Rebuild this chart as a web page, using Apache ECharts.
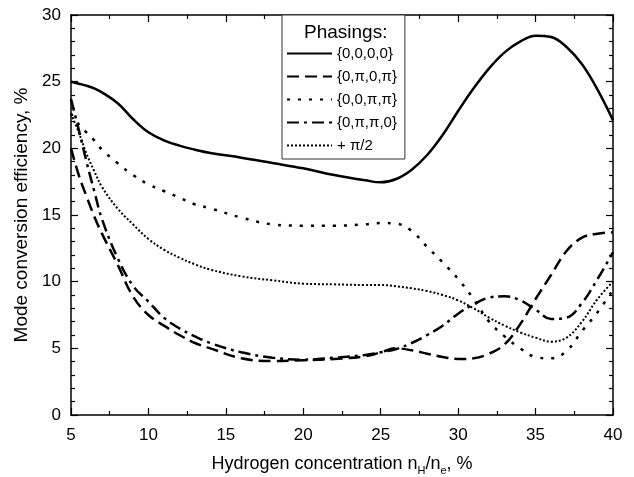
<!DOCTYPE html>
<html>
<head>
<meta charset="utf-8">
<script src="https://cdn.jsdelivr.net/npm/echarts@6/dist/echarts.min.js"></script>
<style>
  html, body { margin: 0; padding: 0; background: #fff; }
  #chart { width: 634px; height: 477px; }
</style>
</head>
<body>
<div id="chart"></div>
<script>
// hydrogen concentration, %
const conc = [5, 5.5, 6, 6.5, 7, 8, 9, 10, 11, 12, 13, 14, 16, 18, 20, 22, 24, 25, 26, 27, 28, 29, 30, 31, 32, 33, 34, 35, 36, 37, 38, 39, 40]

// mode conversion efficiency, %
const phase0000 = [25.0, 24.85, 24.7, 24.5, 24.2, 23.4, 22.2, 21.2, 20.6, 20.2, 19.9, 19.65, 19.3, 18.9, 18.5, 18.0, 17.6, 17.45, 17.7, 18.4, 19.5, 21.0, 22.8, 24.5, 26.0, 27.2, 28.0, 28.45, 28.35, 27.6, 26.3, 24.4, 22.1]
const phase0p0p = [20.0, 18.0, 16.4, 14.9, 13.6, 11.3, 8.9, 7.5, 6.7, 6.0, 5.4, 5.0, 4.25, 4.05, 4.1, 4.2, 4.4, 4.7, 5.0, 4.85, 4.6, 4.35, 4.2, 4.25, 4.6, 5.3, 6.8, 8.7, 10.5, 12.3, 13.3, 13.6, 13.7]
const phase00pp = [22.6, 21.8, 21.2, 20.6, 19.9, 18.9, 18.0, 17.3, 16.8, 16.3, 15.8, 15.5, 14.8, 14.3, 14.2, 14.2, 14.3, 14.4, 14.35, 13.8, 12.6, 11.45, 10.2, 8.7, 7.0, 5.9, 5.0, 4.35, 4.25, 4.8, 6.3, 7.7, 9.4]
const phase0pp0 = [23.7, 21.4, 19.0, 16.8, 14.7, 11.8, 9.7, 8.5, 7.3, 6.5, 5.9, 5.4, 4.7, 4.3, 4.15, 4.3, 4.5, 4.7, 4.95, 5.4, 6.0, 6.7, 7.6, 8.3, 8.8, 8.9, 8.6, 7.9, 7.2, 7.3, 8.4, 10.2, 12.2]
const phaseHalfPi = [22.6, 21.2, 19.6, 18.3, 17.1, 15.5, 14.3, 13.2, 12.4, 11.8, 11.3, 10.9, 10.4, 10.1, 9.85, 9.8, 9.75, 9.75, 9.65, 9.5, 9.3, 9.0, 8.6, 8.0, 7.3, 6.7, 6.2, 5.8, 5.5, 5.8, 7.0, 8.7, 10.0]

const labels = ['{0,0,0,0}', '{0,\u03c0,0,\u03c0}', '{0,0,\u03c0,\u03c0}', '{0,\u03c0,\u03c0,0}', '+ \u03c0/2']

const chart = echarts.init(document.getElementById('chart'))
const font = 'Liberation Sans, Arial, sans-serif'

function pairs(ys) {
  return conc.map((x, i) => [x, ys[i]])
}

function lineSeries(name, ys, type, width) {
  return {
    name: name,
    type: 'line',
    data: pairs(ys),
    smooth: 0.4,
    symbol: 'none',
    showSymbol: false,
    color: '#000',
    lineStyle: { color: '#000', width: width, type: type },
    z: 3
  }
}

const tickStyle = { color: '#000', width: 1.2 }

const option = {
  animation: false,
  backgroundColor: '#fff',
  textStyle: { fontFamily: font },
  grid: { left: 71, right: 21, top: 15, bottom: 62, outerBoundsMode: 'none', containLabel: false },
  title: {
    text: 'Phasings:',
    left: 299,
    top: 18,
    textStyle: { fontFamily: font, fontSize: 19, fontWeight: 'normal', color: '#000' }
  },
  legend: {
    orient: 'vertical',
    left: 282,
    top: 15,
    itemWidth: 45,
    itemHeight: 10,
    itemGap: 8,
    padding: [31, 8, 6, 4],
    borderColor: '#333',
    borderWidth: 1,
    backgroundColor: '#fff',
    itemStyle: { opacity: 0 },
    textStyle: { fontFamily: font, fontSize: 15, color: '#000' },
    data: labels
  },
  xAxis: [
    {
      type: 'value',
      min: 5,
      max: 40,
      interval: 5,
      name: 'Hydrogen concentration n{sub|H}/n{sub|e}, %',
      nameLocation: 'middle',
      nameGap: 38,
      nameTextStyle: {
        fontFamily: font,
        fontSize: 18,
        color: '#000',
        rich: { sub: { fontFamily: font, fontSize: 11, verticalAlign: 'bottom', padding: [12, 0, 0, 0] } }
      },
      axisLine: { show: true, onZero: false, lineStyle: { color: '#000', width: 1.5 } },
      axisTick: { inside: true, length: 7, lineStyle: tickStyle },
      minorTick: { show: true, splitNumber: 2, length: 4, lineStyle: tickStyle },
      axisLabel: { fontFamily: font, fontSize: 17, color: '#000', margin: 12 },
      splitLine: { show: false }
    },
    {
      type: 'value',
      position: 'top',
      min: 5,
      max: 40,
      interval: 5,
      axisLine: { show: true, onZero: false, lineStyle: { color: '#000', width: 1.5 } },
      axisTick: { inside: true, length: 7, lineStyle: tickStyle },
      minorTick: { show: true, splitNumber: 2, length: 4, lineStyle: tickStyle },
      axisLabel: { show: false },
      splitLine: { show: false }
    }
  ],
  yAxis: [
    {
      type: 'value',
      min: 0,
      max: 30,
      interval: 5,
      name: 'Mode conversion efficiency, %',
      nameLocation: 'middle',
      nameGap: 36,
      nameTextStyle: { fontFamily: font, fontSize: 19, color: '#000' },
      axisLine: { show: true, onZero: false, lineStyle: { color: '#000', width: 1.5 } },
      axisTick: { inside: true, length: 7, lineStyle: tickStyle },
      minorTick: { show: true, splitNumber: 5, length: 4, lineStyle: tickStyle },
      axisLabel: { fontFamily: font, fontSize: 17, color: '#000', margin: 10 },
      splitLine: { show: false }
    },
    {
      type: 'value',
      position: 'right',
      min: 0,
      max: 30,
      interval: 5,
      axisLine: { show: true, onZero: false, lineStyle: { color: '#000', width: 1.5 } },
      axisTick: { inside: true, length: 7, lineStyle: tickStyle },
      minorTick: { show: true, splitNumber: 5, length: 4, lineStyle: tickStyle },
      axisLabel: { show: false },
      splitLine: { show: false }
    }
  ],
  series: [
    lineSeries(labels[0], phase0000, 'solid', 2.5),
    lineSeries(labels[1], phase0p0p, [12, 6], 2.5),
    lineSeries(labels[2], phase00pp, [3, 8], 2.5),
    lineSeries(labels[3], phase0pp0, [12, 5, 3, 5], 2.5),
    lineSeries(labels[4], phaseHalfPi, [2, 2], 2)
  ]
}

chart.setOption(option)
</script>
</body>
</html>
